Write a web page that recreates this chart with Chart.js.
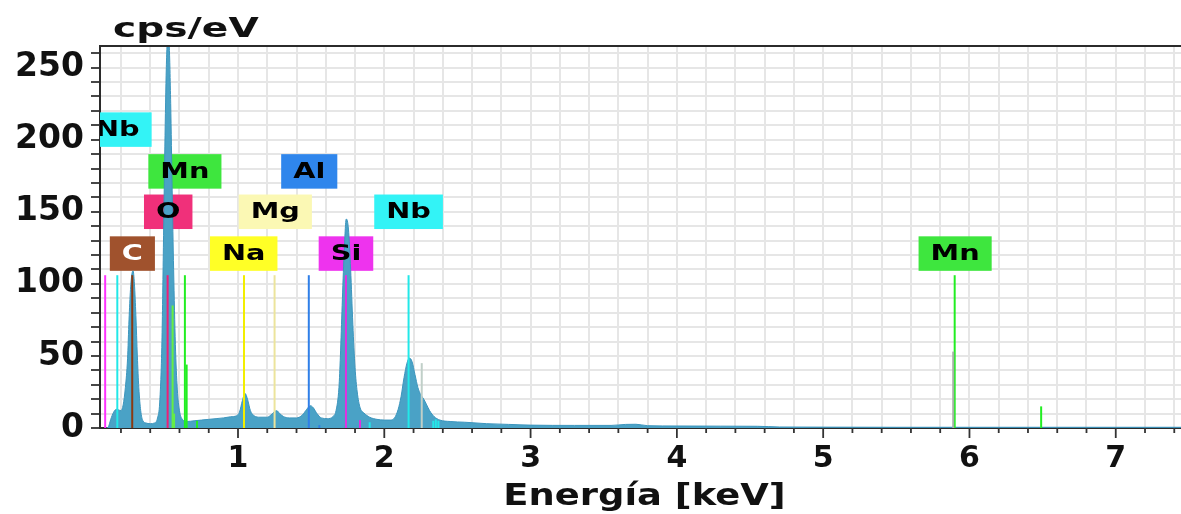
<!DOCTYPE html>
<html>
<head>
<meta charset="utf-8">
<script src="https://cdn.jsdelivr.net/npm/chart.js@4.4.1/dist/chart.umd.min.js"></script>
<style>
  html, body { margin: 0; padding: 0; background: #ffffff; }
  #wrap { width: 1181px; height: 514px; position: relative; }
</style>
</head>
<body>
<div id="wrap"><canvas id="eds" width="1181" height="514"></canvas></div>
<script>
// EDS spectrum: energy (keV) and intensity (cps/eV)
const specEnergy = [
  0.100, 0.115, 0.130, 0.150, 0.170, 0.185, 0.200, 0.215, 0.230, 0.245,
  0.255, 0.265, 0.275, 0.283, 0.292, 0.302, 0.312, 0.322, 0.335, 0.350,
  0.370, 0.400, 0.430, 0.450, 0.465, 0.480, 0.490, 0.500, 0.510, 0.520,
  0.530, 0.540, 0.550, 0.560, 0.572, 0.585, 0.600, 0.620, 0.650, 0.700,
  0.750, 0.800, 0.850, 0.900, 0.950, 0.990, 1.010, 1.030, 1.048, 1.065,
  1.085, 1.110, 1.150, 1.200, 1.225, 1.250, 1.265, 1.285, 1.310, 1.350,
  1.400, 1.440, 1.470, 1.495, 1.515, 1.540, 1.570, 1.610, 1.650, 1.670,
  1.690, 1.700, 1.712, 1.725, 1.740, 1.755, 1.770, 1.785, 1.800, 1.815,
  1.835, 1.860, 1.900, 1.950, 2.000, 2.040, 2.070, 2.095, 2.115, 2.135,
  2.155, 2.172, 2.190, 2.210, 2.230, 2.250, 2.270, 2.290, 2.310, 2.340,
  2.380, 2.450, 2.550, 2.700, 2.850, 3.000, 3.300, 3.550, 3.650, 3.720,
  3.800, 4.000, 4.300, 4.550, 4.700, 5.000, 5.500, 6.000, 6.500, 7.000,
  7.450
];
const specCps = [
  0, 1, 6, 11, 13, 12.5, 12, 16, 28, 48,
  75, 96, 107, 109, 100, 78, 50, 28, 12, 5,
  3.5, 3, 3.5, 7, 18, 60, 125, 195, 250, 272,
  265, 225, 165, 110, 58, 27, 12, 6, 4.5, 5,
  5.5, 6, 6.5, 7, 7.8, 8.5, 11, 19, 24, 20,
  12, 8.5, 7.5, 7.5, 9, 11.5, 12, 10, 8, 7,
  7, 9, 13, 15.5, 14, 10, 7, 6.5, 8, 12,
  28, 50, 85, 120, 145, 138, 110, 72, 42, 25,
  14, 10.5, 7.5, 6, 5.5, 5.5, 7, 13, 22, 35,
  45, 48.5, 46, 37, 28, 23, 20, 16, 12, 8,
  5.5, 4.5, 4, 3, 2.5, 2, 1.8, 1.8, 2.5, 2.6,
  1.6, 1.4, 1.3, 1.2, 0.7, 0.6, 0.5, 0.5, 0.5, 0.5,
  0.5
];

// Emission line markers
const lineEnergy = [0.092, 0.175, 0.277, 0.519, 0.553, 0.563, 0.637, 0.649, 0.720,
  1.041, 1.250, 1.484, 1.556, 1.738, 1.834, 1.900, 2.166, 2.256, 2.335, 2.352, 2.370,
  5.889, 5.899, 6.490];
const lineHeight = [106, 106, 106, 106, 85, 10, 106, 44, 5,
  106, 106, 106, 2, 106, 5.5, 4, 106, 45, 5, 6, 5,
  53, 106, 15];
const lineColor = ['#ff33ff', '#22e8e8', '#8b3a12', '#ee1f77', '#66ee44', '#66ee44', '#22ee22', '#22ee22', '#22ee22',
  '#f2ee00', '#ece49c', '#2f7fe8', '#2f7fe8', '#e030e0', '#e030e0', '#22e8e8', '#22e8e8', '#c0cfc8', '#22e8e8', '#22e8e8', '#22e8e8',
  '#a8b0a8', '#22ee22', '#22ee22'];

// Element tags
const tagName   = ['Nb', 'Mn', 'Al', 'O', 'Mg', 'Nb', 'C', 'Na', 'Si', 'Mn'];
const tagEnergy = [0.175, 0.637, 1.487, 0.523, 1.255, 2.166, 0.278, 1.039, 1.738, 5.902];
const tagLevel  = [207, 178, 178, 150, 150, 150, 121, 121, 121, 121];
const tagFill   = ['#33f3f6', '#3ee63e', '#2f86ec', '#f0307a', '#fbf8b4', '#33f3f6', '#a0522d', '#ffff26', '#ee33ee', '#3ee63e'];
const tagInk    = ['#000', '#000', '#000', '#000', '#000', '#000', '#fff', '#000', '#000', '#000'];

// Axis settings
const xMin = 0.0567, xMax = 7.446;
const yMin = 0, yMax = 265;
const xTitle = 'Energía [keV]';
const yUnit = 'cps/eV';

const FONT = "'DejaVu Sans', Verdana, sans-serif";

const datasets = [];
lineEnergy.forEach((e, i) => {
  datasets.push({
    data: [{x: e, y: 0}, {x: e, y: lineHeight[i]}],
    borderColor: lineColor[i],
    borderWidth: 2,
    pointRadius: 0,
    fill: false,
    order: 0
  });
});
datasets.push({
  data: specEnergy.map((e, i) => ({x: e, y: specCps[i]})),
  borderColor: '#3c95bd',
  backgroundColor: '#4aa2c6',
  borderWidth: 1,
  pointRadius: 0,
  fill: 'origin',
  cubicInterpolationMode: 'monotone',
  order: 10
});

function isWhole(v) { return Math.abs(v - Math.round(v)) < 1e-6; }

// wide bold text, drawn with a horizontal stretch
function wideText(ctx, text, x, y, size, sx, align, baseline, color) {
  ctx.save();
  ctx.translate(x, y);
  ctx.scale(sx, 1);
  ctx.font = 'bold ' + size + 'px ' + FONT;
  ctx.textAlign = align;
  ctx.textBaseline = baseline;
  ctx.fillStyle = color;
  ctx.fillText(text, 0, 0);
  ctx.restore();
}

function tagBoxes(chart) {
  const ctx = chart.ctx, xs = chart.scales.x, ys = chart.scales.y;
  const sx = 1.37, h = 34.5;
  ctx.save();
  ctx.font = 'bold 21px ' + FONT;
  const boxes = tagName.map((n, i) => {
    const cx = xs.getPixelForValue(tagEnergy[i]);
    const cy = ys.getPixelForValue(tagLevel[i]);
    const w = ctx.measureText(n).width * sx + 24;
    return {n, cx, cy, w, h, sx, i};
  });
  ctx.restore();
  return boxes;
}

const tagPlugin = {
  id: 'elementTags',
  beforeDatasetsDraw(chart) {
    const ctx = chart.ctx, a = chart.chartArea;
    ctx.save();
    ctx.beginPath(); ctx.rect(a.left, a.top, a.right - a.left, a.bottom - a.top); ctx.clip();
    tagBoxes(chart).forEach(b => {
      ctx.fillStyle = tagFill[b.i];
      ctx.fillRect(b.cx - b.w / 2, b.cy - b.h / 2, b.w, b.h);
    });
    ctx.restore();
  },
  afterDatasetsDraw(chart) {
    const ctx = chart.ctx, a = chart.chartArea;
    ctx.save();
    ctx.beginPath(); ctx.rect(a.left, a.top, a.right - a.left, a.bottom - a.top); ctx.clip();
    tagBoxes(chart).forEach(b => {
      wideText(ctx, b.n, b.cx, b.cy + 1, 21, b.sx, 'center', 'middle', tagInk[b.i]);
    });
    ctx.restore();
  },
  afterDraw(chart) {
    const ctx = chart.ctx, a = chart.chartArea, xs = chart.scales.x;
    ctx.save();
    // frame top edge
    ctx.strokeStyle = '#2b2b2b';
    ctx.lineWidth = 2;
    ctx.beginPath(); ctx.moveTo(a.left, a.top); ctx.lineTo(a.right, a.top); ctx.stroke();
    // energy tick marks: long on whole keV, short between
    ctx.strokeStyle = '#333';
    ctx.lineWidth = 1.8;
    xs.ticks.forEach(t => {
      const px = xs.getPixelForValue(t.value);
      const len = isWhole(t.value) ? 10 : 5;
      ctx.beginPath(); ctx.moveTo(px, a.bottom); ctx.lineTo(px, a.bottom + len); ctx.stroke();
    });
    ctx.restore();
    // unit label above the plot and the energy axis title
    wideText(ctx, yUnit, a.left + 13, a.top - 9, 27, 1.45, 'left', 'alphabetic', '#111');
    wideText(ctx, xTitle, (a.left + a.right) / 2 + 4, 497, 31, 1.19, 'center', 'middle', '#111');
  }
};

new Chart(document.getElementById('eds'), {
  type: 'line',
  data: { datasets },
  options: {
    responsive: false,
    animation: false,
    events: [],
    layout: { padding: { top: 46, left: 0, right: 0, bottom: 0 } },
    plugins: { legend: { display: false }, tooltip: { enabled: false }, title: { display: false } },
    scales: {
      x: {
        type: 'linear',
        min: xMin, max: xMax,
        afterFit(s) { s.height = 86; s.paddingRight = 0; s.paddingLeft = 0; },
        // tick marks themselves are drawn by the plugin (two lengths)
        grid: { color: '#e6e6e6', lineWidth: 2, drawTicks: true, tickLength: 13, tickColor: 'rgba(0,0,0,0)' },
        border: { display: true, color: '#2b2b2b', width: 2 },
        ticks: {
          stepSize: 0.2,
          includeBounds: false,
          autoSkip: false,
          maxRotation: 0,
          padding: 0,
          color: '#111',
          font: { family: FONT, size: 30, weight: 'bold' },
          callback: v => isWhole(v) ? String(Math.round(v)) : ''
        }
      },
      y: {
        type: 'linear',
        min: yMin, max: yMax,
        afterFit(s) { s.width = 100; },
        grid: { color: '#e6e6e6', lineWidth: 2, drawTicks: true, tickLength: 9, tickColor: '#333', tickWidth: 1.8 },
        border: { display: true, color: '#2b2b2b', width: 2 },
        ticks: {
          stepSize: 10,
          includeBounds: false,
          autoSkip: false,
          padding: 7,
          color: '#111',
          font: { family: FONT, size: 33, weight: 'bold' },
          callback: v => (Math.round(v) % 50 === 0) ? String(Math.round(v)) : ''
        }
      }
    }
  },
  plugins: [tagPlugin]
});
</script>
</body>
</html>
